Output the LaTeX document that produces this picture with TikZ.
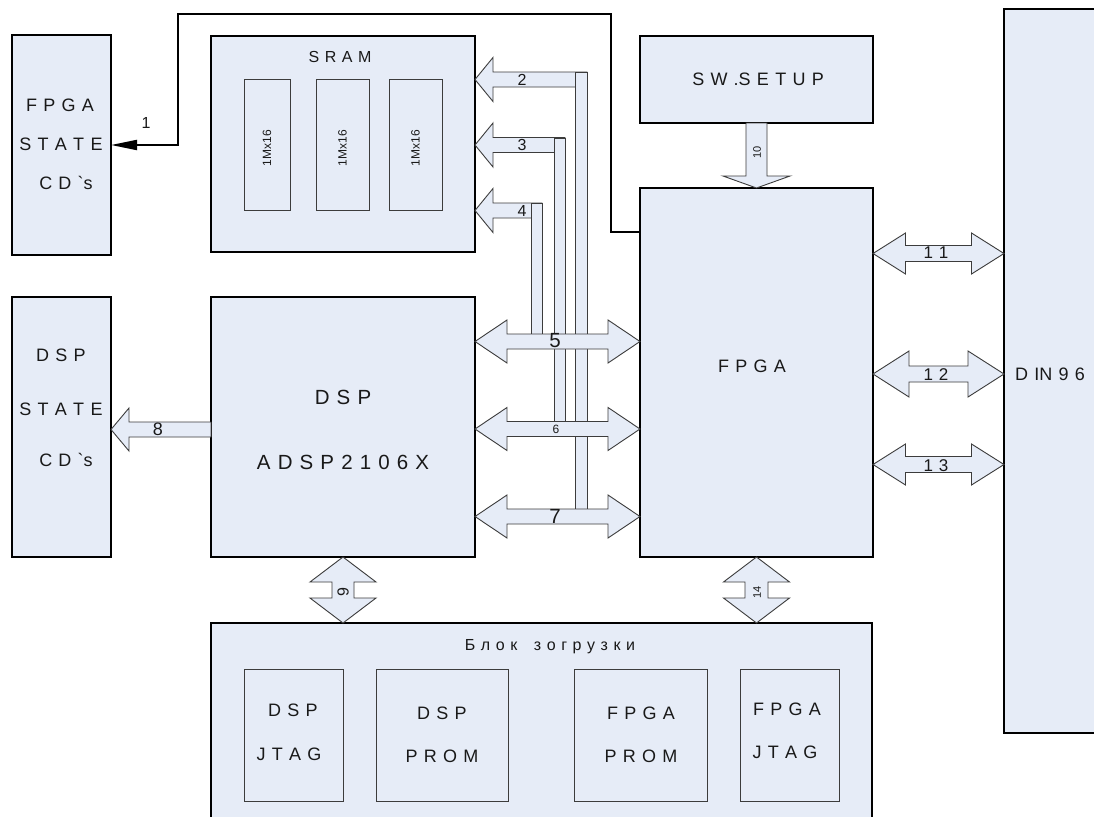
\documentclass[tikz,border=0pt]{standalone}
\usepackage{fontspec}
\setmainfont{Liberation Sans}[WordSpace=1.25]
\usetikzlibrary{calc,arrows.meta}
\definecolor{boxfill}{RGB}{230,236,247}
\definecolor{ink}{RGB}{25,25,25}
\tikzset{
  obox/.style={draw=black, line width=2pt, fill=boxfill, inner sep=0pt, outer sep=0pt},
  ibox/.style={draw=ink!85, line width=1pt, fill=boxfill, inner sep=0pt, outer sep=0pt},
  barrow/.style={draw=ink!85, line width=0.9pt, fill=boxfill, line join=miter},
  busbar/.style={draw=ink!85, line width=0.9pt, fill=boxfill},
  conn/.style={draw=black, line width=2pt},
  lbl/.style={font=\fontsize{18pt}{20pt}\selectfont, text=ink, inner sep=0pt},
  biglbl/.style={font=\fontsize{20.5pt}{22pt}\selectfont, text=ink, inner sep=0pt},
  numlbl/.style={font=\fontsize{16pt}{18pt}\selectfont, text=ink, inner sep=0pt},
  smlbl/.style={font=\fontsize{12pt}{14pt}\selectfont, text=ink, inner sep=0pt},
  tinylbl/.style={font=\fontsize{11pt}{13pt}\selectfont, text=ink, inner sep=0pt},
}
% horizontal double block arrow: left tip, right tip, head length, head half width, shaft half width
\newcommand\BArrowLR[5]{\path[barrow] let \p1=(#1), \p2=(#2) in
  (\x1,\y1) -- (\x1+#3pt,\y1+#4pt) -- (\x1+#3pt,\y1+#5pt) -- (\x2-#3pt,\y1+#5pt) -- (\x2-#3pt,\y1+#4pt)
  -- (\x2,\y1) -- (\x2-#3pt,\y1-#4pt) -- (\x2-#3pt,\y1-#5pt) -- (\x1+#3pt,\y1-#5pt) -- (\x1+#3pt,\y1-#4pt) -- cycle;}
% vertical double block arrow: top tip, bottom tip
\newcommand\BArrowUD[5]{\path[barrow] let \p1=(#1), \p2=(#2) in
  (\x1,\y1) -- (\x1+#4pt,\y1-#3pt) -- (\x1+#5pt,\y1-#3pt) -- (\x1+#5pt,\y2+#3pt) -- (\x1+#4pt,\y2+#3pt)
  -- (\x1,\y2) -- (\x1-#4pt,\y2+#3pt) -- (\x1-#5pt,\y2+#3pt) -- (\x1-#5pt,\y1-#3pt) -- (\x1-#4pt,\y1-#3pt) -- cycle;}
% single block arrow pointing left: tip, tail
\newcommand\BArrowL[5]{\path[barrow] let \p1=(#1), \p2=(#2) in
  (\x1,\y1) -- (\x1+#3pt,\y1+#4pt) -- (\x1+#3pt,\y1+#5pt) -- (\x2,\y1+#5pt) -- (\x2,\y1-#5pt)
  -- (\x1+#3pt,\y1-#5pt) -- (\x1+#3pt,\y1-#4pt) -- cycle;}
% single block arrow pointing down: tail, tip
\newcommand\BArrowD[5]{\path[barrow] let \p1=(#1), \p2=(#2) in
  (\x2,\y2) -- (\x2+#4pt,\y2+#3pt) -- (\x2+#5pt,\y2+#3pt) -- (\x2+#5pt,\y1) -- (\x2-#5pt,\y1)
  -- (\x2-#5pt,\y2+#3pt) -- (\x2-#4pt,\y2+#3pt) -- cycle;}
\begin{document}
\begin{tikzpicture}[x=1pt,y=-1pt]
\useasboundingbox (0,0) rectangle (1094,816);
\clip (0,0) rectangle (1094,816);
\fill[white] (0,0) rectangle (1094,816);

% main blocks
\node[obox, minimum width=99, minimum height=220] (fstate) at (61.5,145) {};
\node[obox, minimum width=264, minimum height=216] (sram) at (343,144) {};
\node[obox, minimum width=233, minimum height=87] (sw) at (756.5,79.5) {};
\node[obox, minimum width=233, minimum height=369] (fpga) at (756.5,372.5) {};
\node[obox, minimum width=100, minimum height=724] (din) at (1054,371) {};
\node[obox, minimum width=99, minimum height=260] (dstate) at (61.5,427) {};
\node[obox, minimum width=264, minimum height=260] (dsp) at (343,427) {};
\node[obox, minimum width=661, minimum height=210] (boot) at (541.5,728) {};

% inner blocks
\node[ibox, minimum width=46, minimum height=131] (m1) at (267,144.5) {};
\node[ibox, minimum width=53, minimum height=131] (m2) at (342.5,144.5) {};
\node[ibox, minimum width=53, minimum height=131] (m3) at (415.5,144.5) {};
\node[ibox, minimum width=99, minimum height=132] (dj) at (293.5,735) {};
\node[ibox, minimum width=132, minimum height=132] (dp) at (442,735) {};
\node[ibox, minimum width=133, minimum height=132] (fp) at (640.5,735) {};
\node[ibox, minimum width=99, minimum height=132] (fj) at (789.5,735) {};

% texts
\node[lbl] (fstateA) at (60,105) {F P G A};
\node[lbl] (fstateB) at (61,144) {S T A T E};
\node[lbl] (fstateC) at (66,183) {C D \textasciigrave s};
\node[lbl, font=\fontsize{16pt}{18pt}\selectfont] (sramT) at (340,57) {S R A M};
\node[smlbl, rotate=90] (m1t) at (267,148) {1Mx16};
\node[smlbl, rotate=90] (m2t) at (342.5,148) {1Mx16};
\node[smlbl, rotate=90] (m3t) at (415.5,148) {1Mx16};
\node[lbl] (swT) at (758,79) {S W .S E T U P};
\node[lbl] (fpgaT) at (752,366) {F P G A};
\node[lbl, anchor=west] (dinT) at (1015,374) {D IN 9 6};
\node[lbl] (dstateA) at (61,355) {D S P};
\node[lbl] (dstateB) at (61,409) {S T A T E};
\node[lbl] (dstateC) at (66,460) {C D \textasciigrave s};
\node[biglbl] (dspA) at (343,397) {D S P};
\node[biglbl] (dspB) at (343,462) {A D S P 2 1 0 6 X};
\node[lbl, font=\fontsize{16pt}{18pt}\selectfont] (bootT) at (550,647) {Б л о к \ \ з о г р у з к и};
\node[lbl] (djA) at (293,710) {D S P};
\node[lbl] (djB) at (289,754) {J T A G};
\node[lbl] (dpA) at (442,713) {D S P};
\node[lbl] (dpB) at (442,756) {P R O M};
\node[lbl] (fpA) at (641,713) {F P G A};
\node[lbl] (fpB) at (641,756) {P R O M};
\node[lbl] (fjA) at (787,709) {F P G A};
\node[lbl] (fjB) at (785,752) {J T A G};

% connector 1
\coordinate (c1a) at (611,232);
\coordinate (c1b) at (611,14);
\coordinate (c1c) at (178,14);
\coordinate (c1d) at (178,145);
\draw[conn, -{Triangle[length=26pt,width=10pt]}] (fpga.west |- c1a) -- (c1a) -- (c1b) -- (c1c) -- (c1d) -- (fstate.east |- c1d);
\node[numlbl] (n1) at (146,123) {1};

% SRAM arrows 2,3,4
\coordinate (t2) at (587,79.5);
\coordinate (t3) at (565,145);
\coordinate (t4) at (542,210.5);
\BArrowL{sram.east |- t2}{t2}{18}{22}{7.5}
\BArrowL{sram.east |- t3}{t3}{18}{22}{7.5}
\BArrowL{sram.east |- t4}{t4}{18}{22}{7.5}
\node[numlbl] (n2) at (522,80) {2};
\node[numlbl] (n3) at (522,145) {3};
\node[numlbl] (n4) at (522,211) {4};

% bus bars
\draw[busbar] (575,72) rectangle (587,516);
\draw[busbar] (554,138) rectangle (565,428);
\draw[busbar] (531,203) rectangle (542,341);

% arrows 5,6,7
\coordinate (y5) at (0,341.5);
\coordinate (y6) at (0,429);
\coordinate (y7) at (0,516.5);
\BArrowLR{dsp.east |- y5}{fpga.west |- y5}{32}{21.5}{7.5}
\BArrowLR{dsp.east |- y6}{fpga.west |- y6}{32}{21.5}{7.5}
\BArrowLR{dsp.east |- y7}{fpga.west |- y7}{32}{21.5}{7.5}
\node[biglbl] (n5) at (555,341) {5};
\node[smlbl] (n6) at (556,429) {6};
\node[biglbl] (n7) at (555,516) {7};

% arrow 8
\coordinate (y8) at (0,429.5);
\BArrowL{dstate.east |- y8}{dsp.west |- y8}{18}{21.5}{7.5}
\node[lbl] (n8) at (158,429) {8};

% arrows 9, 14
\BArrowUD{dsp.south}{dsp.south |- boot.north}{25}{33}{11}
\node[numlbl, rotate=90] (n9) at (343,592) {9};
\BArrowUD{fpga.south}{fpga.south |- boot.north}{25}{33}{11.5}
\node[tinylbl, rotate=90] (n14) at (757,592) {14};

% arrow 10
\BArrowD{sw.south}{fpga.north}{12}{33.5}{10.5}
\node[tinylbl, rotate=90] (n10) at (757,152) {10};

% arrows 11,12,13
\coordinate (y11) at (0,253.5);
\coordinate (y12) at (0,374);
\coordinate (y13) at (0,464.5);
\BArrowLR{fpga.east |- y11}{din.west |- y11}{32.5}{20.5}{8}
\BArrowLR{fpga.east |- y12}{din.west |- y12}{36}{23}{8}
\BArrowLR{fpga.east |- y13}{din.west |- y13}{32.5}{20.5}{8}
\node[lbl, font=\fontsize{17pt}{19pt}\selectfont] (n11) at (936,253) {1 1};
\node[lbl, font=\fontsize{17pt}{19pt}\selectfont] (n12) at (936,375) {1 2};
\node[lbl, font=\fontsize{17pt}{19pt}\selectfont] (n13) at (936,466) {1 3};
\end{tikzpicture}
\end{document}
